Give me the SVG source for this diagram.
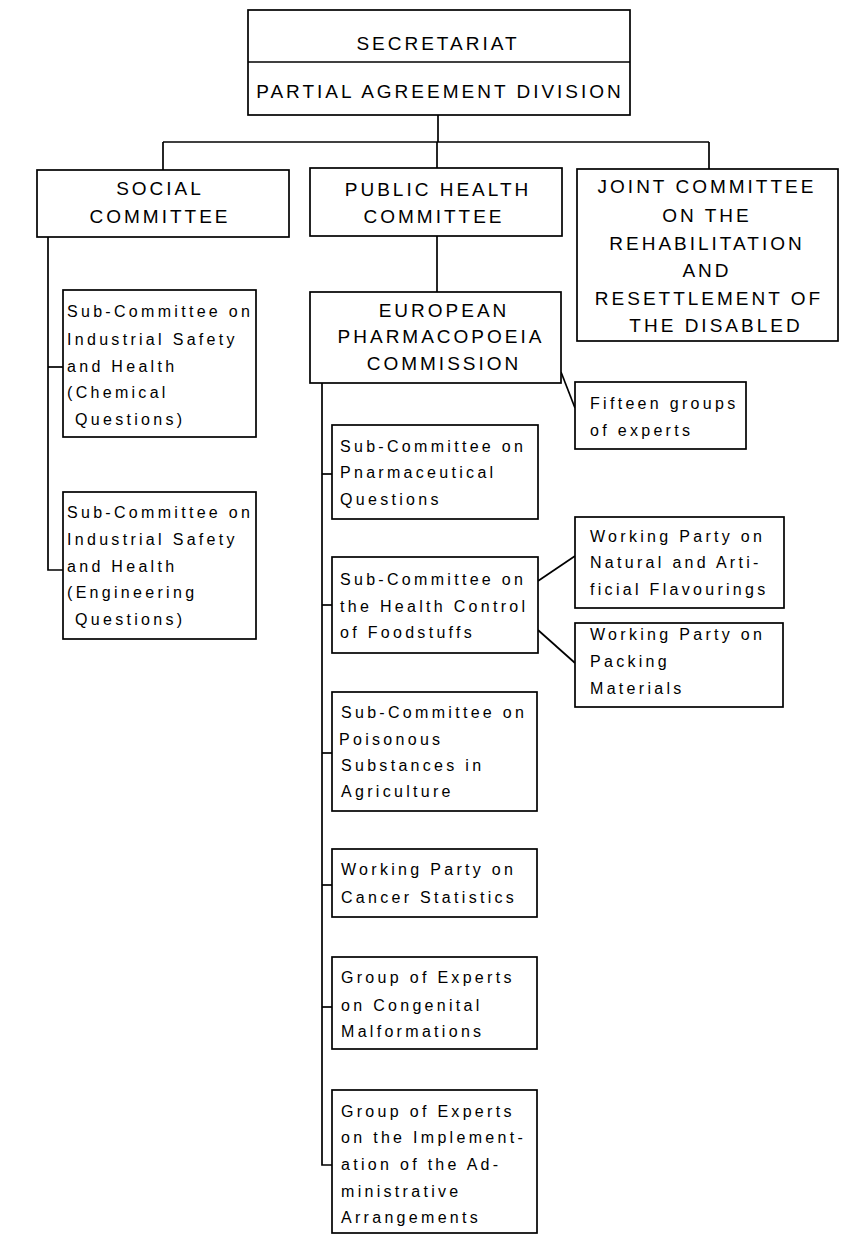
<svg xmlns="http://www.w3.org/2000/svg" width="849" height="1235" viewBox="0 0 849 1235">
<style>
  .box { fill: #fff; stroke: #000; stroke-width: 1.7; }
  .conn { fill: none; stroke: #000; stroke-width: 1.7; }
  .cap { font-family: "Liberation Sans", Arial, sans-serif; font-size: 19px; letter-spacing: 3px; fill: #000; text-anchor: middle; }
  .low { font-family: "Liberation Sans", Arial, sans-serif; font-size: 16px; letter-spacing: 3.3px; fill: #000; }
</style>
<rect width="849" height="1235" fill="#fff"/>

<g id="connectors">
  <line class="conn" x1="438" y1="115" x2="438" y2="142"/>
  <line class="conn" x1="163" y1="142" x2="709" y2="142"/>
  <line class="conn" x1="163" y1="142" x2="163" y2="170"/>
  <line class="conn" x1="437" y1="142" x2="437" y2="168"/>
  <line class="conn" x1="709" y1="142" x2="709" y2="169"/>
  <line class="conn" x1="437" y1="236" x2="437" y2="292"/>
  <polyline class="conn" points="48,237 48,570 63,570"/>
  <line class="conn" x1="48" y1="367" x2="63" y2="367"/>
  <polyline class="conn" points="322,383 322,1165 332,1165"/>
  <line class="conn" x1="322" y1="474" x2="332" y2="474"/>
  <line class="conn" x1="322" y1="605" x2="332" y2="605"/>
  <line class="conn" x1="322" y1="753" x2="332" y2="753"/>
  <line class="conn" x1="322" y1="885" x2="332" y2="885"/>
  <line class="conn" x1="322" y1="1007" x2="332" y2="1007"/>
  <line class="conn" x1="561" y1="372" x2="575" y2="408"/>
  <line class="conn" x1="538" y1="581" x2="575" y2="556"/>
  <line class="conn" x1="538" y1="630" x2="575" y2="663"/>
</g>

<g id="secretariat">
  <rect class="box" x="248" y="10" width="382" height="105"/>
  <line class="conn" x1="248" y1="62" x2="630" y2="62"/>
  <text class="cap" x="438" y="50">SECRETARIAT</text>
  <text class="cap" x="440" y="98">PARTIAL AGREEMENT DIVISION</text>
</g>

<g id="social">
  <rect class="box" x="37" y="170" width="252" height="67"/>
  <text class="cap" x="160" y="195">SOCIAL</text>
  <text class="cap" x="160" y="223">COMMITTEE</text>
</g>

<g id="public-health">
  <rect class="box" x="310" y="168" width="252" height="68"/>
  <text class="cap" x="438" y="196">PUBLIC HEALTH</text>
  <text class="cap" x="434" y="223">COMMITTEE</text>
</g>

<g id="joint">
  <rect class="box" x="577" y="169" width="261" height="172"/>
  <text class="cap" x="707" y="193">JOINT COMMITTEE</text>
  <text class="cap" x="707" y="222">ON THE</text>
  <text class="cap" x="707" y="250">REHABILITATION</text>
  <text class="cap" x="707" y="277">AND</text>
  <text class="cap" x="709" y="305">RESETTLEMENT OF</text>
  <text class="cap" x="716" y="332">THE DISABLED</text>
</g>

<g id="chemical">
  <rect class="box" x="63" y="290" width="193" height="147"/>
  <text class="low" x="67" y="317">Sub-Committee on</text>
  <text class="low" x="67" y="345">Industrial Safety</text>
  <text class="low" x="67" y="372">and Health</text>
  <text class="low" x="67" y="398">(Chemical</text>
  <text class="low" x="75" y="425">Questions)</text>
</g>

<g id="engineering">
  <rect class="box" x="63" y="492" width="193" height="147"/>
  <text class="low" x="67" y="518">Sub-Committee on</text>
  <text class="low" x="67" y="545">Industrial Safety</text>
  <text class="low" x="67" y="572">and Health</text>
  <text class="low" x="67" y="598">(Engineering</text>
  <text class="low" x="75" y="625">Questions)</text>
</g>

<g id="european">
  <rect class="box" x="310" y="292" width="251" height="91"/>
  <text class="cap" x="444" y="317">EUROPEAN</text>
  <text class="cap" x="441" y="343">PHARMACOPOEIA</text>
  <text class="cap" x="444" y="370">COMMISSION</text>
</g>

<g id="fifteen">
  <rect class="box" x="575" y="382" width="171" height="67"/>
  <text class="low" x="590" y="409">Fifteen groups</text>
  <text class="low" x="590" y="436">of experts</text>
</g>

<g id="pharmaceutical">
  <rect class="box" x="332" y="425" width="206" height="94"/>
  <text class="low" x="340" y="452">Sub-Committee on</text>
  <text class="low" x="340" y="478">Pnarmaceutical</text>
  <text class="low" x="340" y="505">Questions</text>
</g>

<g id="foodstuffs">
  <rect class="box" x="332" y="557" width="206" height="96"/>
  <text class="low" x="340" y="585">Sub-Committee on</text>
  <text class="low" x="340" y="612">the Health Control</text>
  <text class="low" x="340" y="638">of Foodstuffs</text>
</g>

<g id="flavourings">
  <rect class="box" x="575" y="517" width="209" height="91"/>
  <text class="low" x="590" y="542">Working Party on</text>
  <text class="low" x="590" y="568">Natural and Arti-</text>
  <text class="low" x="590" y="595">ficial Flavourings</text>
</g>

<g id="packing">
  <rect class="box" x="575" y="623" width="208" height="84"/>
  <text class="low" x="590" y="640">Working Party on</text>
  <text class="low" x="590" y="667">Packing</text>
  <text class="low" x="590" y="694">Materials</text>
</g>

<g id="poisonous">
  <rect class="box" x="332" y="692" width="205" height="119"/>
  <text class="low" x="341" y="718">Sub-Committee on</text>
  <text class="low" x="339" y="745">Poisonous</text>
  <text class="low" x="341" y="771">Substances in</text>
  <text class="low" x="341" y="797">Agriculture</text>
</g>

<g id="cancer">
  <rect class="box" x="332" y="849" width="205" height="68"/>
  <text class="low" x="341" y="875">Working Party on</text>
  <text class="low" x="341" y="903">Cancer Statistics</text>
</g>

<g id="congenital">
  <rect class="box" x="332" y="957" width="205" height="92"/>
  <text class="low" x="341" y="983">Group of Experts</text>
  <text class="low" x="341" y="1011">on Congenital</text>
  <text class="low" x="341" y="1037">Malformations</text>
</g>

<g id="implementation">
  <rect class="box" x="332" y="1090" width="205" height="143"/>
  <text class="low" x="341" y="1117">Group of Experts</text>
  <text class="low" x="341" y="1143">on the Implement-</text>
  <text class="low" x="341" y="1170">ation of the Ad-</text>
  <text class="low" x="341" y="1197">ministrative</text>
  <text class="low" x="341" y="1223">Arrangements</text>
</g>
</svg>
